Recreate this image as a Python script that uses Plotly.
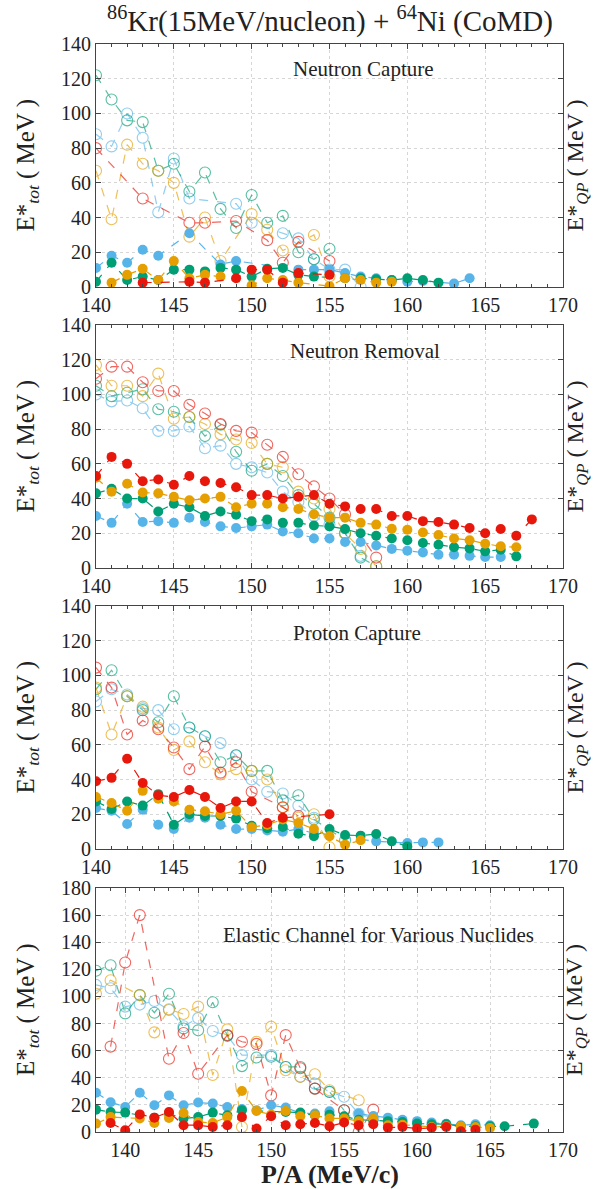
import plotly.graph_objects as go

# ---------------- data ----------------
# Panel 1: Neutron Capture (x from 140)
nc_x = list(range(140, 165))
nc_blue_open = [88, 81, 100, 86, 43, 74, 51, None, None, 48, 37, None, 31, 28, 16, 10, 10, 0]
nc_green_open = [122, 108, 96, 95, 67, 71, 55, 66, 45, 34, 53, 37, 41, 20, 16, 22]
nc_orange_open = [67, 39, 82, 71, 67, 60, 29, 40, 15, None, 42, 33, 21, None, 30, 6]
nc_red_open = [80, None, None, 51, None, None, 37, 37, None, 38, None, 27, 14, 26, None, 15]
nc_blue = [11, 18, 14, 21.5, 18, None, 31, None, 13, 15, None, None, None, 10, 10, 10, 8, 6, 5, 4, 3, 3.5, None, 2, 5]
nc_green = [3, 14, 4, 6, 4, 10, 10, 9, 11, 10, 6, 10.5, 11, 7, 6, None, 5, 5, 4.5, 4, 5, 4, 2.5]
nc_orange = [None, 2.5, 7, 10.5, 4, 15, 5, 7, 6, None, 1, 5, 4, 2.5, None, 0.5, 5, 4, 2.5, 3]
nc_red = [None, None, None, 2.5, None, None, 3, 2.5, None, 5, 10, 10, 2.5, 8, None, 7]

# Panel 2: Neutron Removal (x from 140)
nr_x = list(range(140, 169))
nr_red_open = [109, 116, 116, 107, 102, 102, 94, 89, 83, 79, 78, 71, 64, 54, 47, 40, 31, None, 6]
nr_orange_open = [117, 105, 105, 99, 112, 86, 87, 83, 77, 74, 72, 60, 58, 44, 40, 34, 20, 11, 1]
nr_green_open = [105, 99, 101, 103, 91.5, 90, 87, 76, 82.5, 67, 56, 60, 53, 42, 37, 29, 20, 6, 1]
nr_blue_open = [100, 96, 96.5, 92, 79, 79, 81.5, 69, 70.5, 60, 58, 55, 44, 38, 30, 25, 20, 7, None]
nr_red = [53, 64, 60, 50, 51, 48, 53, 50, 49, 46.5, 42, 42, 40, 41, 42, 37, 35.5, 34, 34, 30, 30, 27,
          26.5, 25, 23, 20, 22.5, 18.6, 28]
nr_orange = [52, 44, 48.5, 43.5, 43, 41, 39, 40, 41, 35, 37, 37, 35, 34, 31, 29, 29, 26, 25, 22.6, 22,
             20.5, 19, 17, 16, 14, 12.5, 12]
nr_green = [43, 45.6, 40, 40, 32.6, 37, 35, 30, 32.6, 30.7, 27, 28, 26, 26, 24.5, 24, 22.4, 20, 18.6,
            17, 16, 14.4, 13.4, 12, 11.3, 9.6, 10.5, 6.7]
nr_blue = [30, 26, 37, 26.5, 27, 26, 29, 26.5, 24, 23, 24, 25, 21, 20, 17, 17, 15, 15, 13, 11, 10, 9,
           7.7, 7.7, 7, 6.3, 6.3]

# Panel 3: Proton Capture (x from 140)
pc_x = list(range(140, 163))
pc_red_open = [104.5, 93, 66, 74, 69, 58.5, 46, 59, 44, 50, 33, None, 24, 19]
pc_orange_open = [93, 66, 88, 82, 70, 57, 62, 50, 43, 46, 45, 40, 24, 18, 20, 1]
pc_green_open = [92, 103, 88, 80, 73, 88, 70, 65, 50, 54, 45, 45, 28, 31, 17, None, 5]
pc_blue_open = [85, 92, 89, 81, 80, 69, 70, 65, 61, 54, 40, 33, 32, 25, 18]
pc_red = [39, 41, 52, 38, 31, 30, 34, 30, 23.6, 27.4, 27.4, 15, 18, None, None, 20]
pc_orange = [30, 26.5, 22, 33.5, 29, 27.4, 22.6, 21.7, 20, 22, 12.5, 14, 17, 15, 11.5, 7.3, 2.5, 5]
pc_green = [27.4, 23, 27.4, 25, 31.6, 14, 20, 19, 19, 17.5, 13.4, 12, 12.7, 8.8, 7.3, 11.5, 8, 7.7,
            8.6, 4.4, 1.5]
pc_blue = [23.6, 22, 14.4, 22.6, 14, 11.5, 18, 18, 14, 11.5, 11.5, 10.7, 10, 11.5, 9, None, None, None,
           4.4, None, 3.5, 3.8, 3.8]

# Panel 4: Elastic Channel (x from 138)
el_x = list(range(138, 169))
el_red_open = [None, 63, 125, 160, None, 54, 73, 43, None, 71.5, 66.6, 65, 27, 71.5, 47, 32, None, 16, 0, 16.5]
el_orange_open = [102, 112, None, 101, 73.5, 90.5, 87, 92.5, 42, 75.7, 3.7, 66.6, 77.7, 45.6, 40.7, 42.6,
                  30.8, None, 23.4]
el_green_open = [119, 123, 87.5, 101, 88, 102, 76.4, 75, 95.7, 71, 48.6, 55, 55.5, 48, 48, 32, 29.6, 16]
el_blue_open = [108.5, 106, 92.5, 94, 96.6, 90, 78, 84, 74.5, 71, 56.7, None, 56.7, 48, 40.7, 35.7, 29.6,
                26, 13.5, 10]
el_blue = [29, 22, 18.5, 29, 19.7, 27, 19.7, 21.7, 21, 18.5, 17, 16, 19.7, 18, 14, 13.6, 15.3, 10.6, 13.6,
           11.8, 10.6, 9, 8, 7, 6, 5, 5.7, 5]
el_green = [16.5, 14.8, 14.3, None, 10.6, 13.6, 10, 11, 14.3, 12.3, 16, None, None, 14.8, 14.3, 12.3, 12.8,
            11.6, 9, 8.6, 8, 7.4, 6.2, 5.7, 5.7, 4.2, 4.2, 4.2, 4.2, None, 6.2]
el_orange = [6.2, 11, None, 10, 6.7, 10.4, 14, 7.4, 6.7, 11, 30.3, 15.5, 12.8, 15.5, 11.6, 12.3, 10, 10, 8,
             10, 5, 5.4, None, 3.7, 4.2, 4.2, 3.7, 3]
el_red = [None, 6.7, 1.2, 13, 10.6, 14.8, 5, 5, 3.7, 5, 11, 2.5, 11.6, 5, 5.7, 6.7, 4.2, 7, 5, 5.7, 3.2,
          3.7, 2.5, 3.2, 3.7, 0.5, 1.7]

panel_titles = ["Neutron Capture", "Neutron Removal", "Proton Capture",
                "Elastic Channel for Various Nuclides"]
x_ticks = [140, 145, 150, 155, 160, 165, 170]

# ---------------- style ----------------
BLUE, GREEN, ORANGE, RED = "#56B4E9", "#009E73", "#E69F00", "#E8170C"
FONT = "Liberation Serif"

W, H = 593, 1189
L, R, T, B = 96, 30, 44, 57
PW = W - L - R
PH = H - T - B


def py(pix):
    return (H - B - pix) / PH


def px(pix):
    return (pix - L) / PW


panels = [
    (nc_x, [nc_blue_open, nc_green_open, nc_orange_open, nc_red_open],
     [nc_blue, nc_green, nc_orange, nc_red], (44, 287), [140, 170], 140),
    (nr_x, [nr_blue_open, nr_green_open, nr_orange_open, nr_red_open],
     [nr_blue, nr_green, nr_orange, nr_red], (325, 568), [140, 170], 140),
    (pc_x, [pc_blue_open, pc_green_open, pc_orange_open, pc_red_open],
     [pc_blue, pc_green, pc_orange, pc_red], (606, 849), [140, 170], 140),
    (el_x, [el_blue_open, el_green_open, el_orange_open, el_red_open],
     [el_blue, el_green, el_orange, el_red], (888, 1132), [138, 170], 180),
]
colors = [BLUE, GREEN, ORANGE, RED]
label_pos = [(363, 69), (365, 351), (357, 633), (378, 935)]

fig = go.Figure()
annotations = []
layout_axes = {}

for i, (xs, opens, fills, (ytop, ybot), xr, ymax) in enumerate(panels):
    k = "" if i == 0 else str(i + 1)
    xa, ya = "x" + k, "y" + k
    for ys, c in zip(opens, colors):
        fig.add_trace(go.Scatter(
            x=xs[:len(ys)], y=ys, mode="lines+markers", xaxis=xa, yaxis=ya,
            connectgaps=True, opacity=0.65, showlegend=False,
            line=dict(color=c, width=1.2, dash="dash"),
            marker=dict(symbol="circle-open", size=11, color=c, line=dict(width=1.1))))
    for ys, c in zip(fills, colors):
        fig.add_trace(go.Scatter(
            x=xs[:len(ys)], y=ys, mode="lines+markers", xaxis=xa, yaxis=ya,
            connectgaps=True, showlegend=False,
            line=dict(color=c, width=1.2, dash="dash"),
            marker=dict(symbol="circle", size=10, color=c)))
    axis_common = dict(
        showline=True, linecolor="#444", linewidth=1.2, mirror="ticks",
        ticks="inside", ticklen=5, tickcolor="#444",
        showgrid=True, gridcolor="#d6d6d6", griddash="dot", gridwidth=1,
        zeroline=False, tickfont=dict(family=FONT, size=20, color="#222"))
    layout_axes["xaxis" + k] = dict(
        axis_common, range=xr, tickvals=x_ticks, anchor=ya,
        domain=[0, 1],
        minor=dict(dtick=1, ticks="inside", ticklen=3, tickcolor="#444", showgrid=False))
    layout_axes["yaxis" + k] = dict(
        axis_common, range=[0, ymax], dtick=20, anchor=xa,
        domain=[py(ybot), py(ytop)])
    cy = (ytop + ybot) / 2
    annotations.append(dict(
        text="E*<sub><i>tot</i></sub> ( MeV )", textangle=-90, xref="paper", yref="paper",
        x=px(27), y=py(cy), showarrow=False, xanchor="center", yanchor="middle",
        font=dict(family=FONT, size=25, color="#222")))
    annotations.append(dict(
        text="E*<sub><i>QP</i></sub> ( MeV )", textangle=-90, xref="paper", yref="paper",
        x=px(576), y=py(cy), showarrow=False, xanchor="center", yanchor="middle",
        font=dict(family=FONT, size=24, color="#222")))
    lx, ly = label_pos[i]
    annotations.append(dict(
        text=panel_titles[i], xref="paper", yref="paper", x=px(lx), y=py(ly),
        showarrow=False, xanchor="center", yanchor="middle",
        font=dict(family=FONT, size=21, color="#222")))

annotations.append(dict(
    text="<sup>86</sup>Kr(15MeV/nucleon) + <sup>64</sup>Ni (CoMD)", xref="paper", yref="paper",
    x=px(330), y=py(19), showarrow=False, xanchor="center", yanchor="middle",
    font=dict(family=FONT, size=29, color="#222")))
annotations.append(dict(
    text="<b>P/A (MeV/c)</b>", xref="paper", yref="paper",
    x=px(330), y=py(1174), showarrow=False, xanchor="center", yanchor="middle",
    font=dict(family=FONT, size=26, color="#222")))

fig.update_layout(
    width=W, height=H, margin=dict(l=L, r=R, t=T, b=B),
    paper_bgcolor="white", plot_bgcolor="white",
    annotations=annotations, **layout_axes)

fig.write_html("out.html", config={"displayModeBar": False},
               post_script="document.body.style.margin='0';document.body.style.overflow='hidden';")
